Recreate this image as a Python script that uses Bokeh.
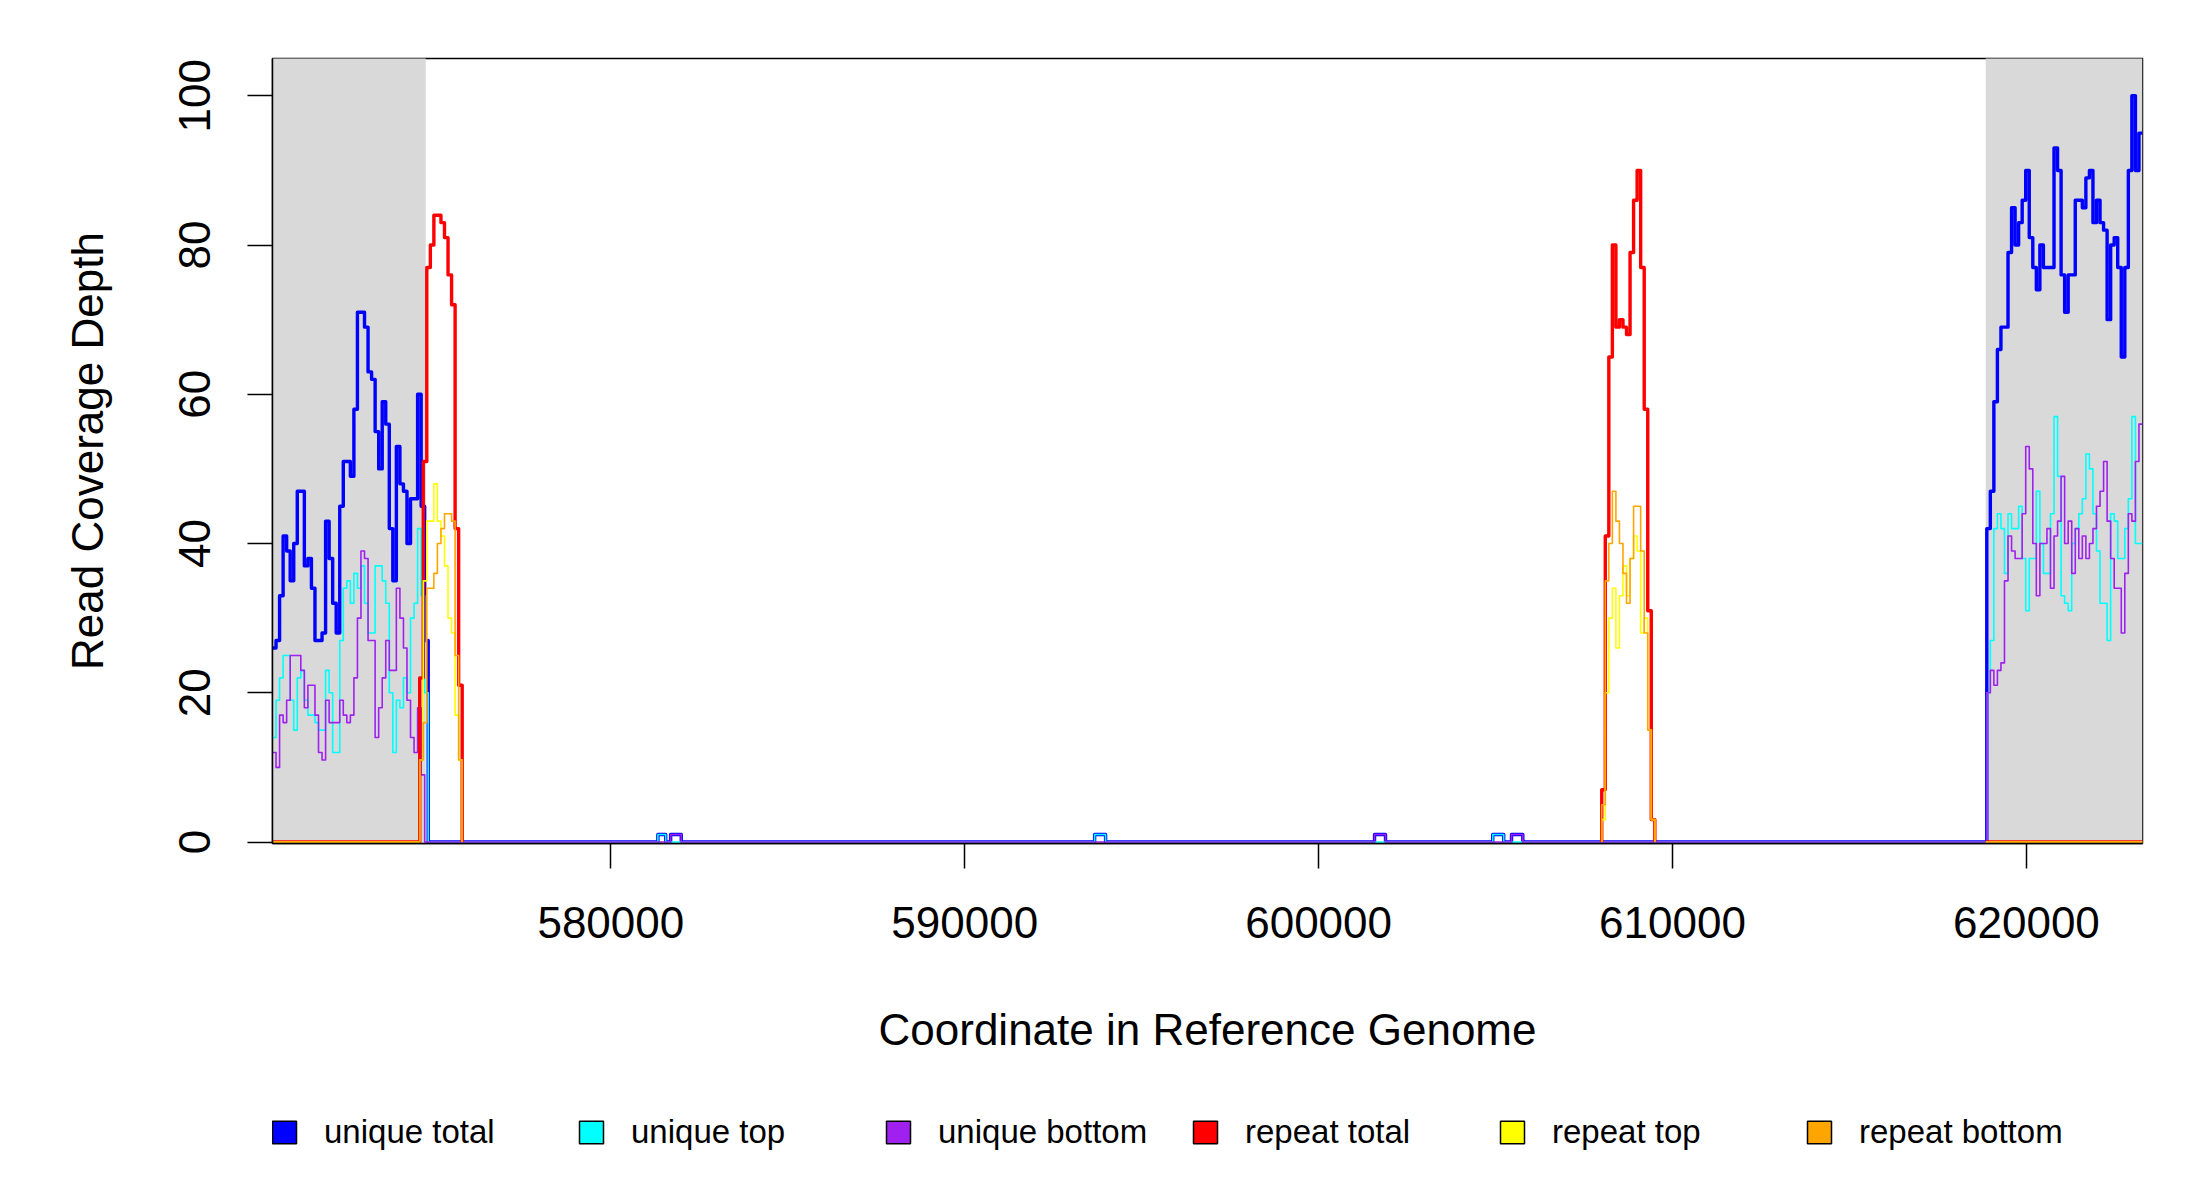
from bokeh.plotting import figure
from bokeh.layouts import column
from bokeh.models import Range1d, FixedTicker, BasicTickFormatter, Legend, LegendItem
from bokeh.embed import file_html
from bokeh.resources import INLINE

# ---------------- data ----------------
SERIES = ["unique total", "unique top", "unique bottom", "repeat total", "repeat top", "repeat bottom"]
COLORS = ["#0000FF", "#00FFFF", "#A020F0", "#FF0000", "#FFFF00", "#FFA500"]

X_MIN, X_MAX = 570440, 623280
BIN = 100
masked_starts = [570440, 618850]
masked_ends = [574770, 623280]

x_ticks = [580000, 590000, 600000, 610000, 620000]
y_ticks = [0, 20, 40, 60, 80, 100]

LEFT_START = 570440
unique_total_left = [26, 27, 33, 41, 39, 35, 40, 47, 47, 37, 38, 34, 27, 27, 28, 43, 38, 32, 28, 45,
                     51, 51, 49, 58, 71, 71, 69, 63, 62, 55, 50, 59, 56, 42, 35, 53, 48, 47, 40, 46,
                     46, 60, 45, 27]
unique_top_left = [14, 19, 22, 25, 25, 19, 15, 22, 23, 19, 17, 17, 16, 15, 15, 23, 20, 12, 12, 27,
                   34, 35, 32, 36, 34, 37, 32, 28, 28, 37, 37, 35, 32, 20, 12, 19, 18, 22, 20, 30,
                   32, 42, 33, 20]
unique_bottom_left = [12, 10, 17, 16, 19, 25, 25, 25, 23, 18, 21, 21, 17, 12, 11, 19, 16, 16, 16, 19,
                      17, 16, 17, 22, 30, 39, 38, 27, 27, 14, 18, 22, 27, 23, 23, 34, 30, 26, 19, 14,
                      12, 18, 9, 0]

RIGHT_START = 618880
unique_total_right = [42, 47, 59, 66, 69, 69, 79, 85, 80, 83, 86, 90, 81, 77, 74, 80, 77, 77, 77, 93,
                      90, 76, 71, 76, 76, 86, 86, 85, 89, 90, 83, 86, 83, 82, 70, 80, 81, 77, 65, 77,
                      90, 100, 90, 95]
unique_top_right = [20, 27, 42, 44, 42, 36, 44, 42, 42, 45, 38, 31, 38, 38, 47, 40, 36, 36, 44, 57,
                    49, 33, 32, 31, 40, 42, 44, 46, 52, 50, 44, 39, 32, 32, 27, 44, 43, 38, 38, 42,
                    46, 57, 40, 40]
unique_bottom_right = [20, 23, 21, 23, 24, 35, 41, 39, 38, 38, 44, 53, 50, 40, 33, 40, 40, 42, 34, 41,
                       43, 49, 40, 43, 36, 42, 38, 41, 38, 40, 42, 45, 47, 51, 43, 38, 34, 34, 28, 36,
                       44, 43, 51, 56]

# small isolated unique hits (depth 1)
bump_starts = [581330, 581690, 593670, 601580, 604920, 605450]
bump_ends = [581550, 581990, 593980, 601890, 605230, 605770]
bump_depth = [1, 1, 1, 1, 1, 1]
bump_strand = ["top", "bottom", "top", "bottom", "top", "bottom"]

REPEAT_LEFT_START = 574600
repeat_total_left = [22, 51, 77, 80, 84, 84, 83, 81, 76, 72, 42, 21]
repeat_top_left = [11, 35, 43, 43, 48, 43, 41, 37, 30, 28, 17, 11]
repeat_bottom_left = [11, 16, 34, 34, 36, 40, 42, 44, 44, 43, 25, 11]

REPEAT_MID_START = 608000
repeat_total_mid = [7, 41, 65, 80, 69, 70, 69, 68, 79, 86, 90, 77, 58, 31, 3]
repeat_top_mid = [3, 20, 30, 34, 26, 33, 37, 33, 38, 41, 39, 28, 30, 15, 3]
repeat_bottom_mid = [5, 35, 40, 47, 43, 40, 36, 32, 38, 45, 45, 39, 28, 15, 3]


# ---------------- helpers ----------------
def bins(start, values):
    return [(start + i * BIN, start + (i + 1) * BIN, v) for i, v in enumerate(values)]


def fill_gaps(segs, x0, x1):
    out, cur = [], x0
    for s, e, v in sorted(segs):
        if s > cur:
            out.append((cur, s, 0))
        out.append((s, e, v))
        cur = e
    if cur < x1:
        out.append((cur, x1, 0))
    return out


def polyline(segs):
    xs, ys = [], []
    for s, e, v in segs:
        xs += [s, e]
        ys += [v, v]
    return xs, ys


def bumps(strand=None):
    return [(s, e, d) for s, e, d, st in zip(bump_starts, bump_ends, bump_depth, bump_strand)
            if strand is None or st == strand]


unique_series = [
    (unique_total_left, unique_total_right, bumps()),
    (unique_top_left, unique_top_right, bumps("top")),
    (unique_bottom_left, unique_bottom_right, bumps("bottom")),
]
repeat_series = [
    (repeat_total_left, repeat_total_mid),
    (repeat_top_left, repeat_top_mid),
    (repeat_bottom_left, repeat_bottom_mid),
]

# ---------------- main figure ----------------
FONT = "Liberation Sans"
W = 2192
p = figure(width=W, height=1080, output_backend="svg", toolbar_location=None,
           x_range=Range1d(X_MIN, X_MAX), y_range=Range1d(-0.2, 105),
           min_border_left=272, min_border_right=50, min_border_top=58, min_border_bottom=237)
p.background_fill_color = "white"
p.border_fill_color = "white"
p.grid.visible = False
p.outline_line_color = "black"
p.outline_line_width = 1.5

# shaded regions
p.quad(left=masked_starts, right=masked_ends, bottom=[-5, -5], top=[110, 110],
       fill_color="#D9D9D9", line_color=None)

# unique series (full range)
for (left_vals, right_vals, bmp), color, lw in zip(unique_series, COLORS[:3], [3.4, 1.6, 1.6]):
    segs = bins(LEFT_START, left_vals) + bmp + bins(RIGHT_START, right_vals)
    xs, ys = polyline(fill_gaps(segs, X_MIN, X_MAX))
    p.line(xs, ys, line_color=color, line_width=lw, line_join="round")

# repeat series (drawn on top)
for (left_vals, mid_vals), color, lw in zip(repeat_series, COLORS[3:], [3.4, 1.6, 1.6]):
    left_end = REPEAT_LEFT_START + BIN * len(left_vals)
    ax_, ay_ = polyline(fill_gaps(bins(REPEAT_LEFT_START, left_vals), X_MIN, left_end))
    ax_, ay_ = ax_ + [left_end], ay_ + [0]
    mid_end = REPEAT_MID_START + BIN * len(mid_vals)
    bx, by = polyline(bins(REPEAT_MID_START, mid_vals))
    bx, by = [REPEAT_MID_START] + bx + [mid_end], [0] + by + [0]
    cx, cy = [masked_starts[1], X_MAX], [0, 0]
    p.multi_line(xs=[ax_, bx, cx], ys=[ay_, by, cy], line_color=color, line_width=lw, line_join="round")

# axes
for ax in (p.xaxis[0], p.yaxis[0]):
    ax.axis_line_color = "black"
    ax.axis_line_width = 1.5
    ax.major_tick_line_width = 1.5
    ax.major_tick_line_color = "black"
    ax.major_tick_out = 25
    ax.major_tick_in = 0
    ax.minor_tick_line_color = None
    ax.major_label_text_font = FONT
    ax.major_label_text_font_size = "44px"
    ax.major_label_text_color = "black"
    ax.axis_label_text_font = FONT
    ax.axis_label_text_font_size = "44px"
    ax.axis_label_text_font_style = "normal"
    ax.axis_label_text_color = "black"

p.xaxis.ticker = FixedTicker(ticks=x_ticks)
p.xaxis.formatter = BasicTickFormatter(use_scientific=False)
p.xaxis.axis_label = "Coordinate in Reference Genome"
p.xaxis.major_label_standoff = 38
p.xaxis.axis_label_standoff = 64

p.yaxis.ticker = FixedTicker(ticks=y_ticks)
p.yaxis.axis_label = "Read Coverage Depth"
p.yaxis.major_label_orientation = "vertical"
p.yaxis.major_label_standoff = 37
p.yaxis.axis_label_standoff = 65

# ---------------- legend strip ----------------
# (its plot frame is aligned by the column layout with the main frame)
LH = 112
q = figure(width=W, height=LH, output_backend="svg", toolbar_location=None,
           x_range=Range1d(0, 1), y_range=Range1d(0, 1),
           min_border_left=0, min_border_right=0, min_border_top=0, min_border_bottom=0)
q.axis.visible = False
q.grid.visible = False
q.outline_line_color = None
q.background_fill_color = "white"
q.border_fill_color = "white"

items = []
for name, color in zip(SERIES, COLORS):
    # one off-screen box per series so the legend has a swatch to draw
    r = q.quad(left=[-3], right=[-2], top=[-2], bottom=[-3], fill_color=color,
               line_color="black", line_width=1.5)
    items.append(LegendItem(label=name, renderers=[r]))
legend = Legend(items=items, orientation="horizontal", location=(-3, 41),
                glyph_width=30, glyph_height=28, label_standoff=25, label_width=252, spacing=0,
                padding=0, margin=0, border_line_alpha=0, background_fill_alpha=0,
                label_text_font=FONT, label_text_font_size="33px", label_text_color="black")
q.add_layout(legend)

open("out.html", "w").write(file_html(column(p, q, spacing=0), INLINE))
